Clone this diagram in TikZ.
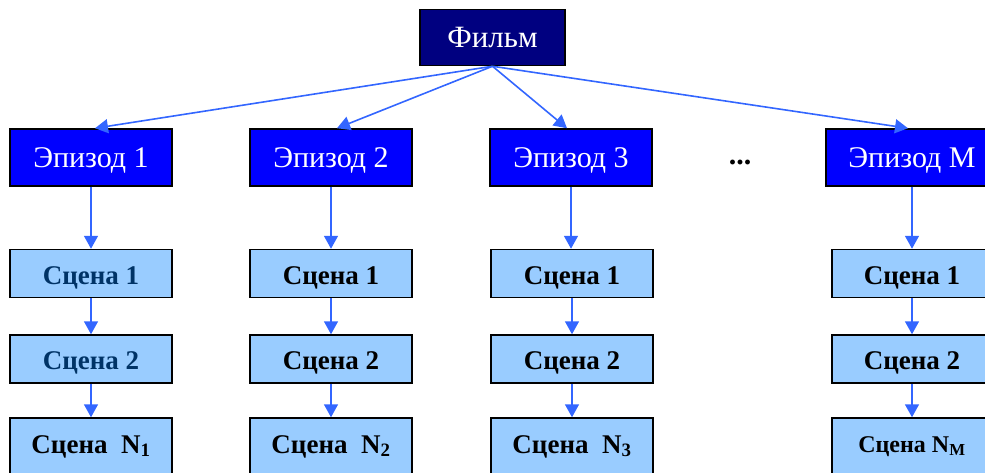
\documentclass[tikz,border=0pt]{standalone}
\usepackage{fontspec}
\setmainfont{Liberation Serif}
\usetikzlibrary{arrows.meta,calc}
\definecolor{filmfill}{HTML}{000080}
\definecolor{epfill}{HTML}{0000FF}
\definecolor{scfill}{HTML}{99CCFF}
\definecolor{arrowc}{HTML}{3366FF}
\definecolor{darktxt}{HTML}{003366}
\tikzset{
  filmbox/.style={draw=black, line width=1.5pt, fill=filmfill, text=white, minimum width=145pt, minimum height=56pt, inner sep=0pt, text height=21pt, text depth=0pt, font=\fontsize{31}{31}\selectfont},
  epbox/.style={draw=black, line width=1.5pt, fill=epfill, text=white, minimum width=162pt, minimum height=57pt, inner sep=0pt, text height=21pt, text depth=0pt, font=\fontsize{30}{30}\selectfont},
  scbox/.style={draw=black, line width=1.5pt, fill=scfill, text=black, minimum width=162pt, minimum height=48pt, inner sep=0pt, text height=20pt, text depth=0pt, font=\fontsize{27}{27}\selectfont\bfseries},
  lastrow/.style={minimum height=56pt, text height=14pt},
  conn/.style={draw=arrowc, line width=1.6pt, -{Triangle[width=14pt,length=13pt]}},
}
\begin{document}
\begin{tikzpicture}[x=1pt,y=-1pt]
\useasboundingbox (0,0) rectangle (985,473);
\node[filmbox] (film) at (492.5,37.5) {Фильм};
\node[epbox] (ep1) at (91,157.5) {Эпизод 1};
\node[epbox] (ep2) at (331,157.5) {Эпизод 2};
\node[epbox] (ep3) at (571,157.5) {Эпизод 3};
\node[epbox, minimum width=172pt] (ep4) at (912,157.5) {Эпизод М};
\node[font=\fontsize{30}{30}\selectfont\bfseries] (dots) at (740,162) {...};
% column 1
\node[scbox, text=darktxt, text height=21pt] (s11) at (91,273.5) {Сцена 1};
\node[scbox, text=darktxt] (s12) at (91,359) {Сцена 2};
\node[scbox, lastrow] (s13) at (91,446) {Сцена~~N\textsubscript{1}};
% column 2
\node[scbox, text height=21pt] (s21) at (331,273.5) {Сцена 1};
\node[scbox] (s22) at (331,359) {Сцена 2};
\node[scbox, lastrow] (s23) at (331,446) {Сцена~~N\textsubscript{2}};
% column 3
\node[scbox, text height=21pt] (s31) at (572,273.5) {Сцена 1};
\node[scbox] (s32) at (572,359) {Сцена 2};
\node[scbox, lastrow] (s33) at (572,446) {Сцена~~N\textsubscript{3}};
% column 4
\node[scbox, minimum width=160pt, text height=21pt] (s41) at (912,273.5) {Сцена 1};
\node[scbox, minimum width=160pt] (s42) at (912,359) {Сцена 2};
\node[scbox, lastrow, minimum width=160pt, text height=12pt, font=\fontsize{24}{24}\selectfont\bfseries] (s43) at (912,446) {Сцена N\textsubscript{M}};
% connectors
\draw[conn] (film.south) -- ($(ep1.north)+(4,0)$);
\draw[conn] (film.south) -- ($(ep2.north)+(6,0)$);
\draw[conn] (film.south) -- ($(ep3.north)+(-4,0)$);
\draw[conn] (film.south) -- ($(ep4.north)+(-4,0)$);
\foreach \c in {1,2,3,4}{
  \draw[conn] (ep\c.south) -- (s\c1.north -| ep\c.south);
  \draw[conn] (s\c1.south) -- (s\c2.north);
  \draw[conn] (s\c2.south) -- (s\c3.north);
}
\end{tikzpicture}
\end{document}
